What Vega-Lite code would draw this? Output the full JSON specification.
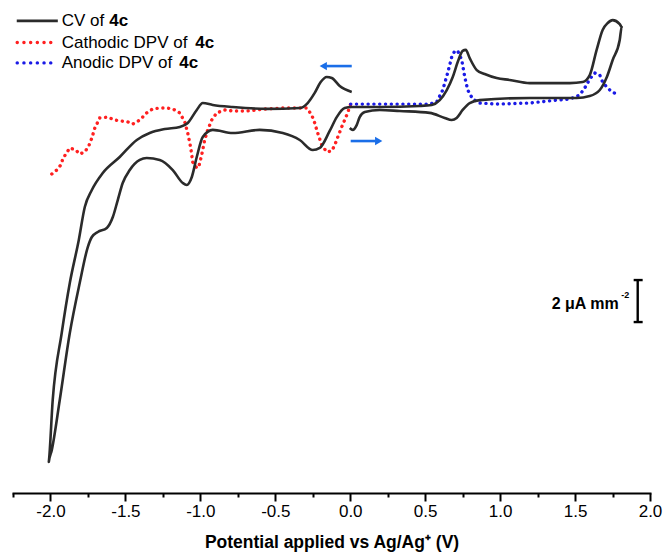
{
  "$schema": "https://vega.github.io/schema/vega-lite/v6.json",
  "width": 637,
  "height": 493,
  "autosize": "none",
  "padding": {"left": 13, "top": 0, "right": 16, "bottom": 61},
  "background": "white",
  "config": {"view": {"stroke": null}, "font": "Liberation Sans"},
  "datasets": {
    "cv": [
      {"i":1,"x":-0.003,"y":17.38},{"i":2,"x":0.017,"y":17.29},{"i":3,"x":0.043,"y":17.52},{"i":4,"x":0.063,"y":17.90},
      {"i":5,"x":0.097,"y":18.14},{"i":6,"x":0.197,"y":18.24},{"i":7,"x":0.330,"y":18.19},{"i":8,"x":0.530,"y":18.10},
      {"i":9,"x":0.630,"y":17.86},{"i":10,"x":0.677,"y":17.76},{"i":11,"x":0.710,"y":17.86},{"i":12,"x":0.750,"y":18.24},
      {"i":13,"x":0.797,"y":18.57},{"i":14,"x":0.864,"y":18.71},{"i":15,"x":1.197,"y":18.81},{"i":16,"x":1.398,"y":18.81},
      {"i":17,"x":1.511,"y":18.81},{"i":18,"x":1.598,"y":18.90},{"i":19,"x":1.665,"y":19.19},{"i":20,"x":1.712,"y":19.81},
      {"i":21,"x":1.751,"y":20.62},{"i":22,"x":1.798,"y":21.57},{"i":23,"x":1.811,"y":22.19},{"i":24,"x":1.798,"y":22.33},
      {"i":25,"x":1.751,"y":22.52},{"i":26,"x":1.718,"y":22.38},{"i":27,"x":1.684,"y":22.05},{"i":28,"x":1.644,"y":21.10},
      {"i":29,"x":1.598,"y":19.90},{"i":30,"x":1.551,"y":19.57},{"i":31,"x":1.465,"y":19.52},{"i":32,"x":1.197,"y":19.52},
      {"i":33,"x":1.064,"y":19.67},{"i":34,"x":0.977,"y":19.76},{"i":35,"x":0.897,"y":19.95},{"i":36,"x":0.844,"y":20.14},
      {"i":37,"x":0.797,"y":20.71},{"i":38,"x":0.771,"y":21.10},{"i":39,"x":0.750,"y":21.05},{"i":40,"x":0.717,"y":20.52},
      {"i":41,"x":0.684,"y":19.81},{"i":42,"x":0.644,"y":19.19},{"i":43,"x":0.597,"y":18.71},{"i":44,"x":0.544,"y":18.48},
      {"i":45,"x":0.464,"y":18.43},{"i":46,"x":0.197,"y":18.38},{"i":47,"x":0.010,"y":18.38},{"i":48,"x":-0.037,"y":18.33},
      {"i":49,"x":-0.090,"y":17.90},{"i":50,"x":-0.137,"y":17.24},{"i":51,"x":-0.203,"y":16.43},{"i":52,"x":-0.250,"y":16.33},
      {"i":53,"x":-0.337,"y":16.81},{"i":54,"x":-0.450,"y":17.14},{"i":55,"x":-0.604,"y":17.29},{"i":56,"x":-0.784,"y":17.14},
      {"i":57,"x":-0.917,"y":17.29},{"i":58,"x":-0.984,"y":16.95},{"i":59,"x":-1.024,"y":16.00},{"i":60,"x":-1.057,"y":15.05},
      {"i":61,"x":-1.091,"y":14.67},{"i":62,"x":-1.117,"y":14.76},{"i":63,"x":-1.184,"y":15.38},{"i":64,"x":-1.271,"y":15.86},
      {"i":65,"x":-1.358,"y":15.95},{"i":66,"x":-1.404,"y":15.86},{"i":67,"x":-1.471,"y":15.38},{"i":68,"x":-1.518,"y":14.76},
      {"i":69,"x":-1.551,"y":13.95},{"i":70,"x":-1.584,"y":13.14},{"i":71,"x":-1.624,"y":12.62},{"i":72,"x":-1.684,"y":12.43},
      {"i":73,"x":-1.724,"y":12.19},{"i":74,"x":-1.751,"y":11.71},{"i":75,"x":-1.805,"y":10.00},{"i":76,"x":-1.871,"y":7.62},
      {"i":77,"x":-1.938,"y":4.43},{"i":78,"x":-1.991,"y":2.05},{"i":79,"x":-2.011,"y":1.48},{"i":80,"x":-1.985,"y":4.43},
      {"i":81,"x":-1.925,"y":7.62},{"i":82,"x":-1.871,"y":10.00},{"i":83,"x":-1.811,"y":12.05},{"i":84,"x":-1.771,"y":13.62},
      {"i":85,"x":-1.724,"y":14.43},{"i":86,"x":-1.651,"y":15.24},{"i":87,"x":-1.538,"y":16.00},{"i":88,"x":-1.424,"y":16.81},
      {"i":89,"x":-1.338,"y":17.14},{"i":90,"x":-1.237,"y":17.33},{"i":91,"x":-1.137,"y":17.43},{"i":92,"x":-1.084,"y":17.62},
      {"i":93,"x":-1.024,"y":18.24},{"i":94,"x":-0.984,"y":18.57},{"i":95,"x":-0.917,"y":18.48},{"i":96,"x":-0.784,"y":18.38},
      {"i":97,"x":-0.557,"y":18.29},{"i":98,"x":-0.337,"y":18.33},{"i":99,"x":-0.284,"y":18.57},{"i":100,"x":-0.237,"y":19.05},
      {"i":101,"x":-0.197,"y":19.57},{"i":102,"x":-0.157,"y":19.81},{"i":103,"x":-0.123,"y":19.76},{"i":104,"x":-0.070,"y":19.38},
      {"i":105,"x":0.010,"y":19.10}
    ],
    "cdpv": [
      {"i":1,"x":-1.991,"y":15.19},{"i":2,"x":-1.958,"y":15.38},{"i":3,"x":-1.931,"y":15.62},{"i":4,"x":-1.918,"y":15.90},
      {"i":5,"x":-1.898,"y":16.14},{"i":6,"x":-1.871,"y":16.43},{"i":7,"x":-1.831,"y":16.33},{"i":8,"x":-1.805,"y":16.14},
      {"i":9,"x":-1.771,"y":16.24},{"i":10,"x":-1.745,"y":16.52},{"i":11,"x":-1.724,"y":16.90},{"i":12,"x":-1.704,"y":17.38},
      {"i":13,"x":-1.671,"y":17.86},{"i":14,"x":-1.618,"y":17.90},{"i":15,"x":-1.571,"y":17.76},{"i":16,"x":-1.524,"y":17.71},
      {"i":17,"x":-1.484,"y":17.67},{"i":18,"x":-1.451,"y":17.57},{"i":19,"x":-1.404,"y":17.76},{"i":20,"x":-1.358,"y":18.10},
      {"i":21,"x":-1.318,"y":18.29},{"i":22,"x":-1.271,"y":18.33},{"i":23,"x":-1.224,"y":18.33},{"i":24,"x":-1.184,"y":18.29},
      {"i":25,"x":-1.137,"y":18.10},{"i":26,"x":-1.104,"y":17.67},{"i":27,"x":-1.084,"y":17.14},{"i":28,"x":-1.064,"y":16.43},
      {"i":29,"x":-1.051,"y":15.76},{"i":30,"x":-1.024,"y":15.48},{"i":31,"x":-1.011,"y":15.52},{"i":32,"x":-0.991,"y":16.10},
      {"i":33,"x":-0.971,"y":16.81},{"i":34,"x":-0.951,"y":17.29},{"i":35,"x":-0.924,"y":17.76},{"i":36,"x":-0.891,"y":18.10},
      {"i":37,"x":-0.837,"y":18.24},{"i":38,"x":-0.784,"y":18.19},{"i":39,"x":-0.690,"y":18.19},{"i":40,"x":-0.557,"y":18.29},
      {"i":41,"x":-0.450,"y":18.33},{"i":42,"x":-0.290,"y":18.33},{"i":43,"x":-0.257,"y":18.00},{"i":44,"x":-0.237,"y":17.62},
      {"i":45,"x":-0.217,"y":17.14},{"i":46,"x":-0.190,"y":16.57},{"i":47,"x":-0.157,"y":16.24},{"i":48,"x":-0.123,"y":16.29},
      {"i":49,"x":-0.103,"y":16.57},{"i":50,"x":-0.083,"y":16.95},{"i":51,"x":-0.057,"y":17.43},{"i":52,"x":-0.023,"y":18.00},
      {"i":53,"x":0.003,"y":18.52}
    ],
    "adpv": [
      {"i":1,"x":0.003,"y":18.52},{"i":2,"x":0.330,"y":18.52},{"i":3,"x":0.530,"y":18.52},{"i":4,"x":0.577,"y":18.62},
      {"i":5,"x":0.617,"y":19.19},{"i":6,"x":0.650,"y":20.00},{"i":7,"x":0.677,"y":20.76},{"i":8,"x":0.697,"y":21.05},
      {"i":9,"x":0.717,"y":21.05},{"i":10,"x":0.744,"y":20.62},{"i":11,"x":0.764,"y":19.81},{"i":12,"x":0.784,"y":19.19},
      {"i":13,"x":0.817,"y":18.76},{"i":14,"x":0.864,"y":18.57},{"i":15,"x":0.977,"y":18.52},{"i":16,"x":1.197,"y":18.57},
      {"i":17,"x":1.378,"y":18.71},{"i":18,"x":1.465,"y":18.76},{"i":19,"x":1.531,"y":18.95},{"i":20,"x":1.565,"y":19.29},
      {"i":21,"x":1.598,"y":19.71},{"i":22,"x":1.631,"y":20.00},{"i":23,"x":1.665,"y":19.90},{"i":24,"x":1.684,"y":19.57},
      {"i":25,"x":1.711,"y":19.33},{"i":26,"x":1.745,"y":19.10},{"i":27,"x":1.778,"y":19.00}
    ],
    "legline": [
      {"i":1,"x":-2.225,"y":22.48},{"i":2,"x":-1.951,"y":22.48}
    ],
    "legred": [
      {"i":1,"x":-2.222,"y":21.45},{"i":2,"x":-1.985,"y":21.45}
    ],
    "legblue": [
      {"i":1,"x":-2.222,"y":20.48},{"i":2,"x":-1.985,"y":20.48}
    ],
    "legtext": [
      {"x":-1.925,"y":22.48,"text":"CV of"},
      {"x":-1.925,"y":21.45,"text":"Cathodic DPV of"},
      {"x":-1.925,"y":20.48,"text":"Anodic DPV of"}
    ],
    "legbold": [
      {"x":-1.607,"y":22.48,"text":"4c"},
      {"x":-1.034,"y":21.45,"text":"4c"},
      {"x":-1.141,"y":20.48,"text":"4c"}
    ],
    "arrows": [
      {"x":-0.160,"x2":0.010,"y":20.33},
      {"x":0.003,"x2":0.170,"y":16.76}
    ],
    "heads": [
      {"x":-0.180,"y":20.33,"dir":"triangle-left"},
      {"x":0.190,"y":16.76,"dir":"triangle-right"}
    ],
    "bar": [{"x":1.918,"y":8.14,"y2":10.14}],
    "caps": [{"x":1.891,"x2":1.951,"y":8.14},{"x":1.891,"x2":1.951,"y":10.14}],
    "bartext": [{"x":1.791,"y":8.98,"text":"2 μA mm"}],
    "barsup": [{"x":1.808,"y":9.45,"text":"-2"}]
  },
  "encoding": {
    "x": {
      "field": "x", "type": "quantitative",
      "scale": {"domain": [-2.25, 2.0], "nice": false, "zero": false},
      "axis": {
        "title": "Potential applied vs Ag/Ag⁺ (V)",
        "values": [-2.25,-2,-1.75,-1.5,-1.25,-1,-0.75,-0.5,-0.25,0,0.25,0.5,0.75,1,1.25,1.5,1.75,2],
        "labelExpr": "abs(datum.value*2 - round(datum.value*2)) < 0.01 ? replace(format(datum.value, '.1f'), '−', '-') : ''",
        "tickSize": {"condition": {"test": "abs(datum.value*2 - round(datum.value*2)) < 0.01", "value": 8}, "value": 4},
        "grid": false,
        "domainColor": "black", "domainWidth": 2, "domainCap": "square",
        "tickColor": "black", "tickWidth": 2,
        "labelFont": "Liberation Sans", "labelFontSize": 17, "labelColor": "black",
        "labelPadding": 2, "labelFlush": false, "labelOverlap": false,
        "titleFont": "Liberation Sans", "titleFontSize": 17.5, "titleFontWeight": "bold",
        "titleColor": "black", "titlePadding": 14
      }
    },
    "y": {
      "field": "y", "type": "quantitative",
      "scale": {"domain": [0, 23.476], "nice": false, "zero": false},
      "axis": null
    }
  },
  "layer": [
    {
      "data": {"name": "cdpv"},
      "mark": {"type": "line", "color": "#ff2020", "strokeWidth": 3.4, "strokeDash": [0.1, 5.7], "strokeCap": "round", "clip": false},
      "encoding": {"order": {"field": "i", "type": "quantitative"}}
    },
    {
      "data": {"name": "adpv"},
      "mark": {"type": "line", "color": "#1a1ae6", "strokeWidth": 3.4, "strokeDash": [0.1, 5.7], "strokeCap": "round", "clip": false},
      "encoding": {"order": {"field": "i", "type": "quantitative"}}
    },
    {
      "data": {"name": "cv"},
      "mark": {"type": "line", "color": "#2b2b2b", "strokeWidth": 2.6, "strokeJoin": "round", "interpolate": "monotone", "clip": false},
      "encoding": {"order": {"field": "i", "type": "quantitative"}}
    },
    {
      "data": {"name": "legline"},
      "mark": {"type": "line", "color": "#2b2b2b", "strokeWidth": 2.6},
      "encoding": {"order": {"field": "i", "type": "quantitative"}}
    },
    {
      "data": {"name": "legred"},
      "mark": {"type": "line", "color": "#ff2020", "strokeWidth": 3.4, "strokeDash": [0.1, 6.6], "strokeCap": "round"},
      "encoding": {"order": {"field": "i", "type": "quantitative"}}
    },
    {
      "data": {"name": "legblue"},
      "mark": {"type": "line", "color": "#1a1ae6", "strokeWidth": 3.4, "strokeDash": [0.1, 6.6], "strokeCap": "round"},
      "encoding": {"order": {"field": "i", "type": "quantitative"}}
    },
    {
      "data": {"name": "legtext"},
      "mark": {"type": "text", "align": "left", "baseline": "middle", "font": "Liberation Sans", "fontSize": 17, "color": "black"},
      "encoding": {"text": {"field": "text"}}
    },
    {
      "data": {"name": "legbold"},
      "mark": {"type": "text", "align": "left", "baseline": "middle", "font": "Liberation Sans", "fontSize": 17, "fontWeight": "bold", "color": "black"},
      "encoding": {"text": {"field": "text"}}
    },
    {
      "data": {"name": "arrows"},
      "mark": {"type": "rule", "color": "#1a6ee8", "strokeWidth": 2.6},
      "encoding": {"x2": {"field": "x2"}}
    },
    {
      "data": {"name": "heads"},
      "mark": {"type": "point", "filled": true, "color": "#1a6ee8", "size": 70, "opacity": 1},
      "encoding": {"shape": {"field": "dir", "type": "nominal", "scale": null}}
    },
    {
      "data": {"name": "bar"},
      "mark": {"type": "rule", "color": "black", "strokeWidth": 2.4},
      "encoding": {"y2": {"field": "y2"}}
    },
    {
      "data": {"name": "caps"},
      "mark": {"type": "rule", "color": "black", "strokeWidth": 2.4},
      "encoding": {"x2": {"field": "x2"}}
    },
    {
      "data": {"name": "bartext"},
      "mark": {"type": "text", "align": "right", "baseline": "middle", "font": "Liberation Sans", "fontSize": 16, "fontWeight": "bold", "color": "black"},
      "encoding": {"text": {"field": "text"}}
    },
    {
      "data": {"name": "barsup"},
      "mark": {"type": "text", "align": "left", "baseline": "middle", "font": "Liberation Sans", "fontSize": 9, "fontWeight": "bold", "color": "black"},
      "encoding": {"text": {"field": "text"}}
    }
  ]
}
